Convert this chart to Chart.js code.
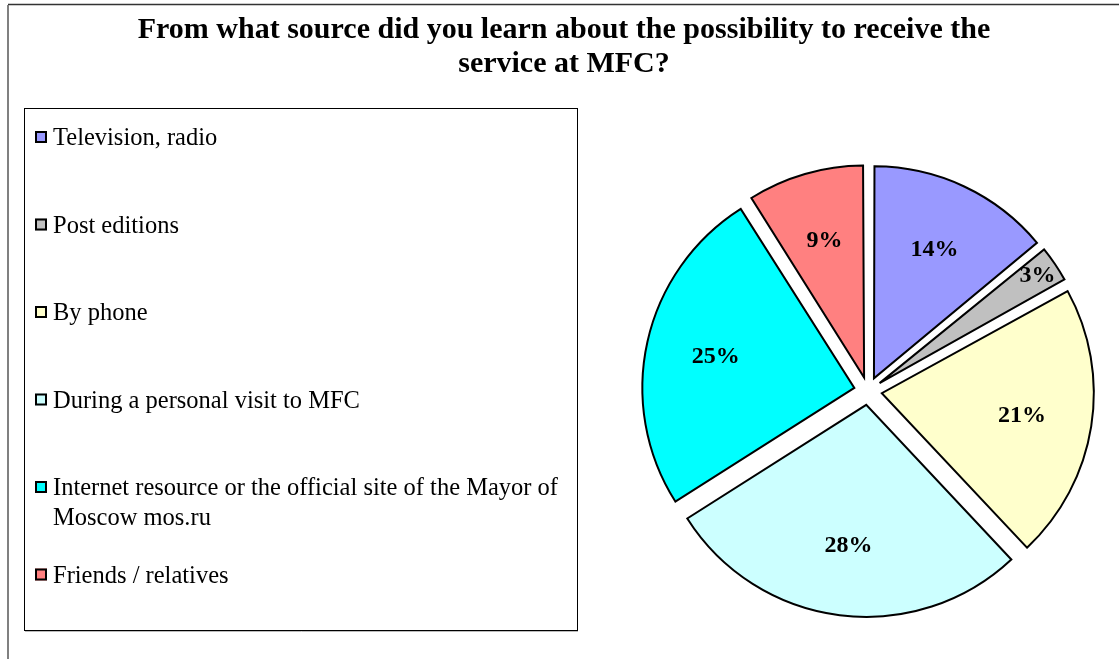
<!DOCTYPE html>
<html>
<head>
<meta charset="utf-8">
<title>MFC source pie</title>
<script src="https://cdn.jsdelivr.net/npm/chart.js@4.4.1/dist/chart.umd.min.js"></script>
<style>
    html, body { margin: 0; padding: 0; background: #fff; overflow: hidden; }
    #wrap { position: relative; width: 1119px; height: 659px; }
</style>
</head>
<body>
<div id="wrap"><canvas id="chart" width="1119" height="659"></canvas></div>
<script>
const titleLines = [
    'From what source did you learn about the possibility to receive the',
    'service at MFC?'
];
const categories = [
    'Television, radio',
    'Post editions',
    'By phone',
    'During a personal visit to MFC',
    'Internet resource or the official site of the Mayor of Moscow mos.ru',
    'Friends / relatives'
];
const shares = [14, 3, 21, 28, 25, 9];
const sliceColors = ['#9999FF', '#C0C0C0', '#FFFFCC', '#CCFFFF', '#00FFFF', '#FF8080'];

const SERIF = '"Liberation Serif", "Times New Roman", serif';
const PIE_RADIUS = 212;
// how far each slice is pulled out, in px (chart.js divides arc offset by 4)
const EXPLODE = 14;

// frame, title, boxed legend and % labels, drawn around the pie
const decorPlugin = {
    id: 'decor',
    beforeDraw(chart) {
        const ctx = chart.ctx;
        ctx.save();

        // outer frame (top and left edges only are visible)
        ctx.strokeStyle = '#333';
        ctx.lineWidth = 1.5;
        ctx.beginPath();
        ctx.moveTo(8, 4.5);
        ctx.lineTo(1119, 4.5);
        ctx.stroke();
        ctx.strokeStyle = '#808080';
        ctx.lineWidth = 2;
        ctx.beginPath();
        ctx.moveTo(8, 5);
        ctx.lineTo(8, 659);
        ctx.stroke();

        // title
        ctx.fillStyle = '#000';
        ctx.font = 'bold 30px ' + SERIF;
        ctx.textAlign = 'center';
        ctx.textBaseline = 'middle';
        titleLines.forEach((line, i) => {
            ctx.fillText(line, 564, 30 + i * 34);
        });

        // legend box
        ctx.strokeStyle = '#000';
        ctx.lineWidth = 1;
        ctx.strokeRect(24.5, 108.5, 553, 522);
        ctx.strokeStyle = '#bbb';
        ctx.beginPath();
        ctx.moveTo(25, 631.5);
        ctx.lineTo(578, 631.5);
        ctx.stroke();

        ctx.font = '24.5px ' + SERIF;
        ctx.textAlign = 'left';
        const labels = chart.data.labels;
        const colors = chart.data.datasets[0].backgroundColor;
        labels.forEach((label, i) => {
            const y = 139 + i * 87.5;

            ctx.fillStyle = colors[i];
            ctx.fillRect(35, y - 8, 12, 12);
            ctx.strokeStyle = '#000';
            ctx.lineWidth = 2;
            ctx.strokeRect(36, y - 7, 10, 10);

            // wrap long labels inside the box
            const words = label.split(' ');
            const lines = [];
            let cur = '';
            words.forEach(w => {
                const test = cur ? cur + ' ' + w : w;
                if (ctx.measureText(test).width > 515 && cur) {
                    lines.push(cur);
                    cur = w;
                } else {
                    cur = test;
                }
            });
            lines.push(cur);

            ctx.fillStyle = '#000';
            lines.forEach((ln, j) => {
                ctx.fillText(ln, 53, y + j * 30);
            });
        });

        ctx.restore();
    },
    beforeDatasetsDraw(chart) {
        // chart.js grows narrow exploded slices by offset*(1 - sin(angle));
        // undo that so every slice keeps the same radius
        chart.getDatasetMeta(0).data.forEach(arc => {
            const circ = arc.endAngle - arc.startAngle;
            const fix = 1 - Math.sin(Math.min(Math.PI, circ));
            arc.outerRadius = PIE_RADIUS - EXPLODE * fix;
        });
    },
    afterDatasetsDraw(chart) {
        const ctx = chart.ctx;
        const meta = chart.getDatasetMeta(0);
        const ds = chart.data.datasets[0];

        ctx.save();
        ctx.fillStyle = '#000';
        ctx.font = 'bold 24px ' + SERIF;
        ctx.textAlign = 'center';
        ctx.textBaseline = 'middle';

        meta.data.forEach((arc, i) => {
            const p = arc.getProps(['x', 'y', 'startAngle', 'endAngle'], true);
            const mid = (p.startAngle + p.endAngle) / 2;
            // small slices get their label pushed out towards the rim
            const frac = ds.data[i] < 5 ? 0.9 : 0.67;
            const d = PIE_RADIUS * frac + EXPLODE;
            ctx.fillText(ds.data[i] + '%', p.x + Math.cos(mid) * d, p.y + Math.sin(mid) * d);
        });

        ctx.restore();
    }
};

new Chart(document.getElementById('chart').getContext('2d'), {
    type: 'pie',
    data: {
        labels: categories,
        datasets: [{
            data: shares,
            backgroundColor: sliceColors,
            borderColor: '#000',
            borderWidth: 2,
            borderJoinStyle: 'miter',
            offset: EXPLODE * 4
        }]
    },
    options: {
        responsive: false,
        animation: false,
        radius: PIE_RADIUS,
        layout: {
            padding: { left: 638, top: 161, right: 21, bottom: 38 }
        },
        plugins: {
            legend: { display: false },
            title: { display: false },
            tooltip: { enabled: false }
        }
    },
    plugins: [decorPlugin]
});
</script>
</body>
</html>
